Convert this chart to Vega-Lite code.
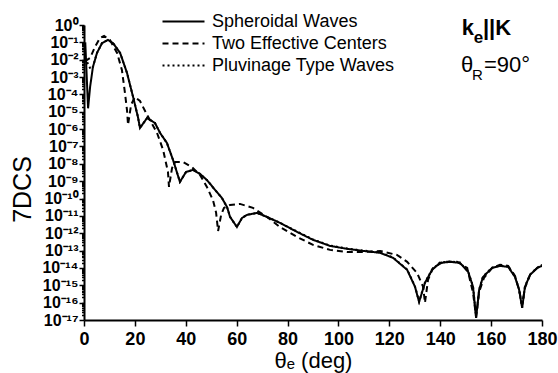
{
  "$schema": "https://vega.github.io/schema/vega-lite/v6.json",
  "width": 458,
  "height": 295,
  "autosize": {"type": "none"},
  "padding": {"left": 84, "top": 25, "right": 16, "bottom": 53},
  "background": "white",
  "config": {
    "view": {"stroke": null},
    "font": "Liberation Sans",
    "axis": {
      "domainColor": "black",
      "domainWidth": 2,
      "tickColor": "black",
      "tickWidth": 1.5,
      "labelColor": "black",
      "titleColor": "black",
      "grid": false,
      "labelFont": "Liberation Sans",
      "titleFont": "Liberation Sans",
      "titleFontWeight": "normal"
    }
  },
  "datasets": {
    "curves": [
      {"series": "Spheroidal Waves", "theta": 0.5, "dcs": 1e-1},
      {"series": "Spheroidal Waves", "theta": 1.6, "dcs": 1.58e-5},
      {"series": "Spheroidal Waves", "theta": 2.4, "dcs": 2.69e-4},
      {"series": "Spheroidal Waves", "theta": 3.5, "dcs": 3.80e-3},
      {"series": "Spheroidal Waves", "theta": 5.1, "dcs": 2.45e-2},
      {"series": "Spheroidal Waves", "theta": 7.1, "dcs": 9.12e-2},
      {"series": "Spheroidal Waves", "theta": 9.4, "dcs": 1.38e-1},
      {"series": "Spheroidal Waves", "theta": 11.4, "dcs": 9.12e-2},
      {"series": "Spheroidal Waves", "theta": 14.2, "dcs": 2.45e-2},
      {"series": "Spheroidal Waves", "theta": 16.9, "dcs": 1.74e-3},
      {"series": "Spheroidal Waves", "theta": 19.3, "dcs": 7.08e-5},
      {"series": "Spheroidal Waves", "theta": 21.2, "dcs": 5.01e-6},
      {"series": "Spheroidal Waves", "theta": 22.0, "dcs": 1.17e-6},
      {"series": "Spheroidal Waves", "theta": 24.8, "dcs": 4.37e-6},
      {"series": "Spheroidal Waves", "theta": 27.9, "dcs": 2.24e-6},
      {"series": "Spheroidal Waves", "theta": 29.9, "dcs": 6.03e-7},
      {"series": "Spheroidal Waves", "theta": 32.6, "dcs": 1.58e-7},
      {"series": "Spheroidal Waves", "theta": 35.0, "dcs": 1.66e-8},
      {"series": "Spheroidal Waves", "theta": 37.7, "dcs": 9.12e-10},
      {"series": "Spheroidal Waves", "theta": 40.1, "dcs": 3.39e-9},
      {"series": "Spheroidal Waves", "theta": 42.8, "dcs": 4.47e-9},
      {"series": "Spheroidal Waves", "theta": 45.6, "dcs": 2.63e-9},
      {"series": "Spheroidal Waves", "theta": 48.3, "dcs": 1.17e-9},
      {"series": "Spheroidal Waves", "theta": 51.5, "dcs": 3.16e-10},
      {"series": "Spheroidal Waves", "theta": 54.2, "dcs": 1.07e-10},
      {"series": "Spheroidal Waves", "theta": 56.2, "dcs": 3.31e-11},
      {"series": "Spheroidal Waves", "theta": 57.4, "dcs": 8.71e-12},
      {"series": "Spheroidal Waves", "theta": 60.1, "dcs": 2.29e-12},
      {"series": "Spheroidal Waves", "theta": 62.1, "dcs": 7.59e-12},
      {"series": "Spheroidal Waves", "theta": 64.1, "dcs": 1.15e-11},
      {"series": "Spheroidal Waves", "theta": 68.0, "dcs": 1.48e-11},
      {"series": "Spheroidal Waves", "theta": 71.9, "dcs": 8.71e-12},
      {"series": "Spheroidal Waves", "theta": 77.0, "dcs": 3.98e-12},
      {"series": "Spheroidal Waves", "theta": 83.7, "dcs": 1.20e-12},
      {"series": "Spheroidal Waves", "theta": 90.0, "dcs": 4.17e-13},
      {"series": "Spheroidal Waves", "theta": 96.7, "dcs": 1.86e-13},
      {"series": "Spheroidal Waves", "theta": 103.4, "dcs": 1.26e-13},
      {"series": "Spheroidal Waves", "theta": 109.7, "dcs": 9.55e-14},
      {"series": "Spheroidal Waves", "theta": 116.4, "dcs": 7.41e-14},
      {"series": "Spheroidal Waves", "theta": 121.5, "dcs": 3.80e-14},
      {"series": "Spheroidal Waves", "theta": 127.0, "dcs": 7.76e-15},
      {"series": "Spheroidal Waves", "theta": 130.1, "dcs": 8.13e-16},
      {"series": "Spheroidal Waves", "theta": 131.7, "dcs": 1.10e-16},
      {"series": "Spheroidal Waves", "theta": 134.0, "dcs": 1.38e-15},
      {"series": "Spheroidal Waves", "theta": 136.8, "dcs": 7.76e-15},
      {"series": "Spheroidal Waves", "theta": 139.9, "dcs": 1.95e-14},
      {"series": "Spheroidal Waves", "theta": 143.9, "dcs": 2.24e-14},
      {"series": "Spheroidal Waves", "theta": 147.8, "dcs": 1.95e-14},
      {"series": "Spheroidal Waves", "theta": 151.0, "dcs": 5.89e-15},
      {"series": "Spheroidal Waves", "theta": 152.9, "dcs": 8.13e-16},
      {"series": "Spheroidal Waves", "theta": 154.1, "dcs": 1.32e-17},
      {"series": "Spheroidal Waves", "theta": 155.3, "dcs": 5.50e-16},
      {"series": "Spheroidal Waves", "theta": 156.8, "dcs": 3.02e-15},
      {"series": "Spheroidal Waves", "theta": 160.4, "dcs": 1.0e-14},
      {"series": "Spheroidal Waves", "theta": 163.5, "dcs": 1.32e-14},
      {"series": "Spheroidal Waves", "theta": 166.7, "dcs": 1.15e-14},
      {"series": "Spheroidal Waves", "theta": 169.4, "dcs": 3.02e-15},
      {"series": "Spheroidal Waves", "theta": 171.0, "dcs": 5.50e-16},
      {"series": "Spheroidal Waves", "theta": 172.2, "dcs": 5.01e-17},
      {"series": "Spheroidal Waves", "theta": 173.3, "dcs": 8.13e-16},
      {"series": "Spheroidal Waves", "theta": 175.3, "dcs": 3.98e-15},
      {"series": "Spheroidal Waves", "theta": 178.1, "dcs": 1.0e-14},
      {"series": "Spheroidal Waves", "theta": 180.0, "dcs": 1.32e-14},

      {"series": "Two Effective Centers", "theta": 0.3, "dcs": 7.94e-3},
      {"series": "Two Effective Centers", "theta": 2.4, "dcs": 1.26e-2},
      {"series": "Two Effective Centers", "theta": 4.3, "dcs": 5.37e-2},
      {"series": "Two Effective Centers", "theta": 6.3, "dcs": 1.78e-1},
      {"series": "Two Effective Centers", "theta": 7.9, "dcs": 2.34e-1},
      {"series": "Two Effective Centers", "theta": 10.2, "dcs": 1.38e-1},
      {"series": "Two Effective Centers", "theta": 13.0, "dcs": 2.45e-2},
      {"series": "Two Effective Centers", "theta": 14.9, "dcs": 2.57e-3},
      {"series": "Two Effective Centers", "theta": 16.1, "dcs": 1.20e-4},
      {"series": "Two Effective Centers", "theta": 16.9, "dcs": 1.26e-5},
      {"series": "Two Effective Centers", "theta": 17.3, "dcs": 1.74e-6},
      {"series": "Two Effective Centers", "theta": 18.5, "dcs": 2.51e-5},
      {"series": "Two Effective Centers", "theta": 20.0, "dcs": 7.08e-5},
      {"series": "Two Effective Centers", "theta": 22.0, "dcs": 4.17e-5},
      {"series": "Two Effective Centers", "theta": 24.8, "dcs": 6.61e-6},
      {"series": "Two Effective Centers", "theta": 28.7, "dcs": 6.03e-7},
      {"series": "Two Effective Centers", "theta": 31.1, "dcs": 6.31e-8},
      {"series": "Two Effective Centers", "theta": 33.0, "dcs": 3.39e-9},
      {"series": "Two Effective Centers", "theta": 33.4, "dcs": 4.68e-10},
      {"series": "Two Effective Centers", "theta": 34.6, "dcs": 5.75e-9},
      {"series": "Two Effective Centers", "theta": 35.8, "dcs": 1.26e-8},
      {"series": "Two Effective Centers", "theta": 38.9, "dcs": 1.26e-8},
      {"series": "Two Effective Centers", "theta": 42.5, "dcs": 6.31e-9},
      {"series": "Two Effective Centers", "theta": 45.6, "dcs": 2.29e-9},
      {"series": "Two Effective Centers", "theta": 48.3, "dcs": 4.68e-10},
      {"series": "Two Effective Centers", "theta": 50.7, "dcs": 7.94e-11},
      {"series": "Two Effective Centers", "theta": 51.9, "dcs": 1.58e-11},
      {"series": "Two Effective Centers", "theta": 52.7, "dcs": 1.35e-12},
      {"series": "Two Effective Centers", "theta": 53.9, "dcs": 1.15e-11},
      {"series": "Two Effective Centers", "theta": 55.0, "dcs": 2.88e-11},
      {"series": "Two Effective Centers", "theta": 57.4, "dcs": 4.27e-11},
      {"series": "Two Effective Centers", "theta": 61.3, "dcs": 4.90e-11},
      {"series": "Two Effective Centers", "theta": 66.4, "dcs": 2.88e-11},
      {"series": "Two Effective Centers", "theta": 71.9, "dcs": 8.71e-12},
      {"series": "Two Effective Centers", "theta": 77.0, "dcs": 2.29e-12},
      {"series": "Two Effective Centers", "theta": 83.7, "dcs": 6.17e-13},
      {"series": "Two Effective Centers", "theta": 90.0, "dcs": 2.14e-13},
      {"series": "Two Effective Centers", "theta": 96.7, "dcs": 1.10e-13},
      {"series": "Two Effective Centers", "theta": 103.4, "dcs": 8.32e-14},
      {"series": "Two Effective Centers", "theta": 109.7, "dcs": 8.32e-14},
      {"series": "Two Effective Centers", "theta": 116.4, "dcs": 9.55e-14},
      {"series": "Two Effective Centers", "theta": 123.0, "dcs": 5.62e-14},
      {"series": "Two Effective Centers", "theta": 127.0, "dcs": 2.24e-14},
      {"series": "Two Effective Centers", "theta": 130.9, "dcs": 5.13e-15},
      {"series": "Two Effective Centers", "theta": 133.3, "dcs": 8.13e-16},
      {"series": "Two Effective Centers", "theta": 134.0, "dcs": 9.77e-17},
      {"series": "Two Effective Centers", "theta": 135.2, "dcs": 2.04e-15},
      {"series": "Two Effective Centers", "theta": 137.2, "dcs": 1.0e-14},
      {"series": "Two Effective Centers", "theta": 141.1, "dcs": 2.24e-14},
      {"series": "Two Effective Centers", "theta": 146.6, "dcs": 2.24e-14},
      {"series": "Two Effective Centers", "theta": 150.6, "dcs": 1.0e-14},
      {"series": "Two Effective Centers", "theta": 152.9, "dcs": 3.63e-16},
      {"series": "Two Effective Centers", "theta": 154.1, "dcs": 1.51e-17},
      {"series": "Two Effective Centers", "theta": 155.3, "dcs": 4.17e-16},
      {"series": "Two Effective Centers", "theta": 157.2, "dcs": 2.69e-15},
      {"series": "Two Effective Centers", "theta": 160.4, "dcs": 1.0e-14},
      {"series": "Two Effective Centers", "theta": 163.5, "dcs": 1.51e-14},
      {"series": "Two Effective Centers", "theta": 166.7, "dcs": 1.32e-14},
      {"series": "Two Effective Centers", "theta": 169.4, "dcs": 3.47e-15},
      {"series": "Two Effective Centers", "theta": 171.0, "dcs": 5.50e-16},
      {"series": "Two Effective Centers", "theta": 172.2, "dcs": 7.41e-17},
      {"series": "Two Effective Centers", "theta": 173.3, "dcs": 7.08e-16},
      {"series": "Two Effective Centers", "theta": 175.3, "dcs": 3.98e-15},
      {"series": "Two Effective Centers", "theta": 178.1, "dcs": 1.0e-14},
      {"series": "Two Effective Centers", "theta": 180.0, "dcs": 1.51e-14},

      {"series": "Pluvinage Type Waves", "theta": 0.3, "dcs": 1.26e-2},
      {"series": "Pluvinage Type Waves", "theta": 1.8, "dcs": 5.01e-3},
      {"series": "Pluvinage Type Waves", "theta": 2.6, "dcs": 2.82e-3},
      {"series": "Pluvinage Type Waves", "theta": 3.5, "dcs": 3.80e-3},
      {"series": "Pluvinage Type Waves", "theta": 5.1, "dcs": 2.45e-2},
      {"series": "Pluvinage Type Waves", "theta": 7.1, "dcs": 9.12e-2},
      {"series": "Pluvinage Type Waves", "theta": 9.4, "dcs": 1.38e-1},
      {"series": "Pluvinage Type Waves", "theta": 11.4, "dcs": 9.12e-2},
      {"series": "Pluvinage Type Waves", "theta": 14.2, "dcs": 2.45e-2},
      {"series": "Pluvinage Type Waves", "theta": 16.9, "dcs": 1.74e-3},
      {"series": "Pluvinage Type Waves", "theta": 19.3, "dcs": 7.08e-5},
      {"series": "Pluvinage Type Waves", "theta": 21.2, "dcs": 5.01e-6},
      {"series": "Pluvinage Type Waves", "theta": 22.0, "dcs": 1.17e-6},
      {"series": "Pluvinage Type Waves", "theta": 24.8, "dcs": 4.37e-6},
      {"series": "Pluvinage Type Waves", "theta": 27.9, "dcs": 2.24e-6},
      {"series": "Pluvinage Type Waves", "theta": 29.9, "dcs": 6.03e-7},
      {"series": "Pluvinage Type Waves", "theta": 32.6, "dcs": 1.58e-7},
      {"series": "Pluvinage Type Waves", "theta": 35.0, "dcs": 1.66e-8},
      {"series": "Pluvinage Type Waves", "theta": 37.7, "dcs": 9.12e-10},
      {"series": "Pluvinage Type Waves", "theta": 40.1, "dcs": 3.39e-9},
      {"series": "Pluvinage Type Waves", "theta": 42.8, "dcs": 4.47e-9},
      {"series": "Pluvinage Type Waves", "theta": 45.6, "dcs": 2.63e-9},
      {"series": "Pluvinage Type Waves", "theta": 48.3, "dcs": 1.17e-9},
      {"series": "Pluvinage Type Waves", "theta": 51.5, "dcs": 3.16e-10},
      {"series": "Pluvinage Type Waves", "theta": 54.2, "dcs": 1.07e-10},
      {"series": "Pluvinage Type Waves", "theta": 56.2, "dcs": 3.31e-11},
      {"series": "Pluvinage Type Waves", "theta": 57.4, "dcs": 8.71e-12},
      {"series": "Pluvinage Type Waves", "theta": 60.1, "dcs": 2.29e-12},
      {"series": "Pluvinage Type Waves", "theta": 62.1, "dcs": 7.59e-12},
      {"series": "Pluvinage Type Waves", "theta": 64.1, "dcs": 1.15e-11},
      {"series": "Pluvinage Type Waves", "theta": 68.0, "dcs": 1.48e-11},
      {"series": "Pluvinage Type Waves", "theta": 71.9, "dcs": 8.71e-12},
      {"series": "Pluvinage Type Waves", "theta": 77.0, "dcs": 3.98e-12},
      {"series": "Pluvinage Type Waves", "theta": 83.7, "dcs": 1.26e-12},
      {"series": "Pluvinage Type Waves", "theta": 90.0, "dcs": 4.37e-13},
      {"series": "Pluvinage Type Waves", "theta": 96.7, "dcs": 1.95e-13},
      {"series": "Pluvinage Type Waves", "theta": 103.4, "dcs": 1.32e-13},
      {"series": "Pluvinage Type Waves", "theta": 109.7, "dcs": 1.00e-13},
      {"series": "Pluvinage Type Waves", "theta": 116.4, "dcs": 7.76e-14},
      {"series": "Pluvinage Type Waves", "theta": 121.5, "dcs": 3.98e-14},
      {"series": "Pluvinage Type Waves", "theta": 127.0, "dcs": 8.13e-15},
      {"series": "Pluvinage Type Waves", "theta": 130.1, "dcs": 8.51e-16},
      {"series": "Pluvinage Type Waves", "theta": 131.7, "dcs": 1.15e-16},
      {"series": "Pluvinage Type Waves", "theta": 134.0, "dcs": 1.45e-15},
      {"series": "Pluvinage Type Waves", "theta": 136.8, "dcs": 8.13e-15},
      {"series": "Pluvinage Type Waves", "theta": 139.9, "dcs": 2.04e-14},
      {"series": "Pluvinage Type Waves", "theta": 143.9, "dcs": 2.34e-14},
      {"series": "Pluvinage Type Waves", "theta": 147.8, "dcs": 2.04e-14},
      {"series": "Pluvinage Type Waves", "theta": 151.0, "dcs": 6.17e-15},
      {"series": "Pluvinage Type Waves", "theta": 152.9, "dcs": 8.51e-16},
      {"series": "Pluvinage Type Waves", "theta": 154.1, "dcs": 1.38e-17},
      {"series": "Pluvinage Type Waves", "theta": 155.3, "dcs": 5.75e-16},
      {"series": "Pluvinage Type Waves", "theta": 156.8, "dcs": 3.16e-15},
      {"series": "Pluvinage Type Waves", "theta": 160.4, "dcs": 1.05e-14},
      {"series": "Pluvinage Type Waves", "theta": 163.5, "dcs": 1.38e-14},
      {"series": "Pluvinage Type Waves", "theta": 166.7, "dcs": 1.20e-14},
      {"series": "Pluvinage Type Waves", "theta": 169.4, "dcs": 3.16e-15},
      {"series": "Pluvinage Type Waves", "theta": 171.0, "dcs": 5.75e-16},
      {"series": "Pluvinage Type Waves", "theta": 172.2, "dcs": 5.25e-17},
      {"series": "Pluvinage Type Waves", "theta": 173.3, "dcs": 8.51e-16},
      {"series": "Pluvinage Type Waves", "theta": 175.3, "dcs": 4.17e-15},
      {"series": "Pluvinage Type Waves", "theta": 178.1, "dcs": 1.05e-14},
      {"series": "Pluvinage Type Waves", "theta": 180.0, "dcs": 1.38e-14}
    ],
    "notes": [
      {"part": "k", "theta": 148.5, "dcs": 0.265},
      {"part": "||K", "theta": 156.8, "dcs": 0.265},
      {"part": "e", "theta": 153.2, "dcs": 0.091},
      {"part": "θ", "theta": 148.2, "dcs": 0.00204},
      {"part": "R", "theta": 152.5, "dcs": 0.00068},
      {"part": "=90°", "theta": 157.2, "dcs": 0.00204}
    ]
  },
  "layer": [
    {
      "data": {"name": "curves"},
      "mark": {"type": "line", "color": "black", "strokeWidth": 2, "clip": true},
      "encoding": {
        "x": {
          "field": "theta",
          "type": "quantitative",
          "scale": {"domain": [0, 180], "nice": false, "zero": false},
          "axis": {
            "title": "θₑ (deg)",
            "titleFontSize": 22,
            "titlePadding": 2,
            "values": [0, 10, 20, 30, 40, 50, 60, 70, 80, 90, 100, 110, 120, 130, 140, 150, 160, 170, 180],
            "labelExpr": "datum.value % 20 === 0 ? datum.label : ''",
            "labelFontSize": 18,
            "labelFontWeight": "bold",
            "labelPadding": 4,
            "labelFlush": false,
            "labelOverlap": false,
            "tickSize": {"condition": {"test": "datum.value % 20 === 0", "value": 6}, "value": 3}
          }
        },
        "y": {
          "field": "dcs",
          "type": "quantitative",
          "scale": {"type": "log", "domain": [1e-17, 1], "nice": false},
          "axis": {
            "title": "7DCS",
            "titleFontSize": 25,
            "titleAngle": -90,
            "titleAlign": "center",
            "titleBaseline": "middle",
            "titleX": -62,
            "titleY": 164,
            "values": [1e-17, 2e-17, 3e-17, 4e-17, 5e-17, 6e-17, 7e-17, 8e-17, 9e-17,
                       1e-16, 2e-16, 3e-16, 4e-16, 5e-16, 6e-16, 7e-16, 8e-16, 9e-16,
                       1e-15, 2e-15, 3e-15, 4e-15, 5e-15, 6e-15, 7e-15, 8e-15, 9e-15,
                       1e-14, 2e-14, 3e-14, 4e-14, 5e-14, 6e-14, 7e-14, 8e-14, 9e-14,
                       1e-13, 2e-13, 3e-13, 4e-13, 5e-13, 6e-13, 7e-13, 8e-13, 9e-13,
                       1e-12, 2e-12, 3e-12, 4e-12, 5e-12, 6e-12, 7e-12, 8e-12, 9e-12,
                       1e-11, 2e-11, 3e-11, 4e-11, 5e-11, 6e-11, 7e-11, 8e-11, 9e-11,
                       1e-10, 2e-10, 3e-10, 4e-10, 5e-10, 6e-10, 7e-10, 8e-10, 9e-10,
                       1e-9, 2e-9, 3e-9, 4e-9, 5e-9, 6e-9, 7e-9, 8e-9, 9e-9,
                       1e-8, 2e-8, 3e-8, 4e-8, 5e-8, 6e-8, 7e-8, 8e-8, 9e-8,
                       1e-7, 2e-7, 3e-7, 4e-7, 5e-7, 6e-7, 7e-7, 8e-7, 9e-7,
                       1e-6, 2e-6, 3e-6, 4e-6, 5e-6, 6e-6, 7e-6, 8e-6, 9e-6,
                       1e-5, 2e-5, 3e-5, 4e-5, 5e-5, 6e-5, 7e-5, 8e-5, 9e-5,
                       1e-4, 2e-4, 3e-4, 4e-4, 5e-4, 6e-4, 7e-4, 8e-4, 9e-4,
                       1e-3, 2e-3, 3e-3, 4e-3, 5e-3, 6e-3, 7e-3, 8e-3, 9e-3,
                       1e-2, 2e-2, 3e-2, 4e-2, 5e-2, 6e-2, 7e-2, 8e-2, 9e-2,
                       1e-1, 2e-1, 3e-1, 4e-1, 5e-1, 6e-1, 7e-1, 8e-1, 9e-1, 1],
            "labelExpr": "abs(log(datum.value)/LN10 - round(log(datum.value)/LN10)) < 0.001 ? '10' + ['⁰','⁻¹','⁻²','⁻³','⁻⁴','⁻⁵','⁻⁶','⁻⁷','⁻⁸','⁻⁹','⁻¹⁰','⁻¹¹','⁻¹²','⁻¹³','⁻¹⁴','⁻¹⁵','⁻¹⁶','⁻¹⁷'][abs(round(log(datum.value)/LN10))] : ''",
            "labelFontSize": 16,
            "labelFontWeight": "bold",
            "labelPadding": 1,
            "labelOverlap": false,
            "labelBound": false,
            "labelFlush": false,
            "tickSize": {"condition": {"test": "abs(log(datum.value)/LN10 - round(log(datum.value)/LN10)) < 0.001", "value": 5}, "value": 2.5}
          }
        },
        "strokeDash": {
          "field": "series",
          "type": "nominal",
          "scale": {
            "domain": ["Spheroidal Waves", "Two Effective Centers", "Pluvinage Type Waves"],
            "range": [[1, 0], [6, 4], [2, 3]]
          },
          "legend": {
            "title": null,
            "orient": "none",
            "legendX": 88,
            "legendY": -15,
            "padding": 0,
            "symbolType": "M-2,0H2",
            "symbolSize": 441,
            "symbolStrokeWidth": 2,
            "symbolStrokeColor": "black",
            "labelFontSize": 18,
            "labelFont": "Liberation Sans",
            "labelColor": "black",
            "labelLimit": 400,
            "labelOffset": 17,
            "rowPadding": 1
          }
        }
      }
    },
    {
      "data": {"name": "notes"},
      "transform": [{"filter": "datum.part === 'k' || datum.part === '||K'"}],
      "mark": {"type": "text", "align": "left", "baseline": "alphabetic", "fontSize": 22, "fontWeight": "bold", "font": "Liberation Sans", "color": "black", "clip": false},
      "encoding": {
        "x": {"field": "theta", "type": "quantitative"},
        "y": {"field": "dcs", "type": "quantitative"},
        "text": {"field": "part"}
      }
    },
    {
      "data": {"name": "notes"},
      "transform": [{"filter": "datum.part === 'e'"}],
      "mark": {"type": "text", "align": "left", "baseline": "alphabetic", "fontSize": 17, "fontWeight": "bold", "font": "Liberation Sans", "color": "black", "clip": false},
      "encoding": {
        "x": {"field": "theta", "type": "quantitative"},
        "y": {"field": "dcs", "type": "quantitative"},
        "text": {"field": "part"}
      }
    },
    {
      "data": {"name": "notes"},
      "transform": [{"filter": "datum.part === 'θ' || datum.part === '=90°'"}],
      "mark": {"type": "text", "align": "left", "baseline": "alphabetic", "fontSize": 22, "font": "Liberation Sans", "color": "black", "clip": false},
      "encoding": {
        "x": {"field": "theta", "type": "quantitative"},
        "y": {"field": "dcs", "type": "quantitative"},
        "text": {"field": "part"}
      }
    },
    {
      "data": {"name": "notes"},
      "transform": [{"filter": "datum.part === 'R'"}],
      "mark": {"type": "text", "align": "left", "baseline": "alphabetic", "fontSize": 15, "font": "Liberation Sans", "color": "black", "clip": false},
      "encoding": {
        "x": {"field": "theta", "type": "quantitative"},
        "y": {"field": "dcs", "type": "quantitative"},
        "text": {"field": "part"}
      }
    }
  ]
}
